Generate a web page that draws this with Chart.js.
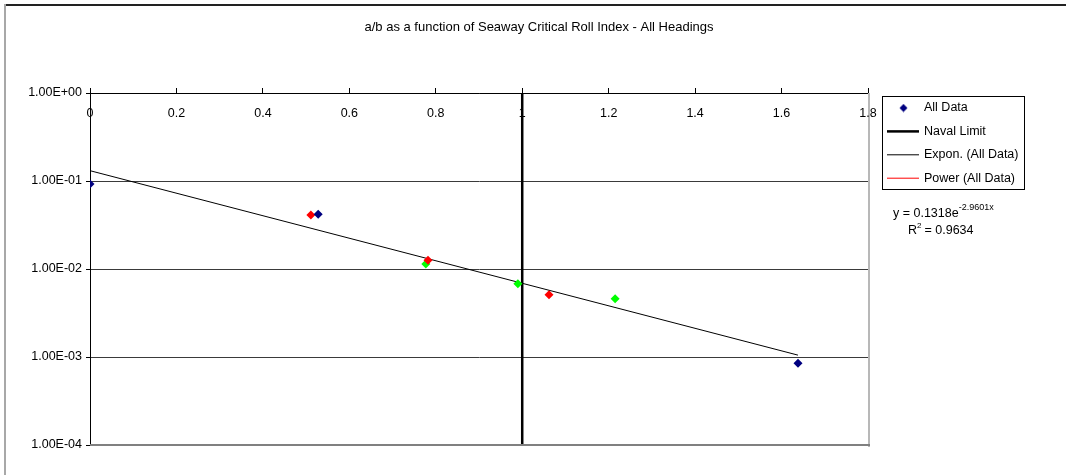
<!DOCTYPE html>
<html>
<head>
<meta charset="utf-8">
<script src="https://cdn.jsdelivr.net/npm/chart.js@4/dist/chart.umd.min.js"></script>
<style>
  body { margin: 0; background: #fff; }
  canvas { display: block; }
</style>
</head>
<body>
<canvas id="graph0" width="1066" height="475"></canvas>
<script>
// values
const allDataX = [0, 0.528, 1.638];
const allDataY = [0.0925, 0.042, 0.00085];
const redX = [0.511, 0.782, 1.062];
const redY = [0.041, 0.0126, 0.0051];
const greenX = [0.777, 0.99, 1.215];
const greenY = [0.0114, 0.0068, 0.0046];
const exponX = [0, 1.638];
const exponY = [0.131, 0.00105];
const navalX = [1, 1];
const navalY = [0.0001, 1];
const xTicks = [0, 0.2, 0.4, 0.6, 0.8, 1, 1.2, 1.4, 1.6, 1.8];
const yTicks = [0.0001, 0.001, 0.01, 0.1, 1];

const chartTitle = "a/b as a function of Seaway Critical Roll Index - All Headings";
const fontName = "'Liberation Sans', Arial, sans-serif";

function points(xs, ys){
    return xs.map((x, i) => ({x: x, y: ys[i]}));
}

function sciLabel(v){
    const e = Math.round(Math.log10(v));
    const m = v / Math.pow(10, e);
    return m.toFixed(2) + "E" + (e < 0 ? "-" : "+") + String(Math.abs(e)).padStart(2, "0");
}

// small diamond used as the legend marker of "All Data"
function diamond(color){
    const c = document.createElement("canvas");
    c.width = 9; c.height = 9;
    const g = c.getContext("2d");
    g.fillStyle = color;
    g.beginPath();
    g.moveTo(4.5, 0.5); g.lineTo(8.5, 4.5); g.lineTo(4.5, 8.5); g.lineTo(0.5, 4.5);
    g.closePath();
    g.fill();
    return c;
}

const frame = {
    id: "frame",
    beforeDraw(chart){
        const ctx = chart.ctx;
        ctx.save();
        ctx.fillStyle = "#fff";
        ctx.fillRect(0, 0, chart.width, chart.height);
        ctx.fillStyle = "#222";
        ctx.fillRect(4, 4, chart.width - 4, 2);
        ctx.fillStyle = "#a8a8a8";
        ctx.fillRect(4, 4, 2, chart.height - 4);
        ctx.restore();
    },
    afterDraw(chart){
        const ctx = chart.ctx;
        const area = chart.chartArea;
        const xs = chart.scales.x;
        ctx.save();

        // title, centred on the whole chart like the original
        ctx.font = "13px " + fontName;
        ctx.fillStyle = "#000";
        ctx.textAlign = "center";
        ctx.textBaseline = "middle";
        ctx.fillText(chartTitle, chart.width / 2 + 6, 27);

        // plot area border (right and bottom)
        ctx.fillStyle = "#b8b8b8";
        ctx.fillRect(area.right, area.top, 2, area.bottom - area.top + 2);
        ctx.fillStyle = "#808080";
        ctx.fillRect(area.left, area.bottom - 1, area.right - area.left + 2, 2);

        // x labels sit under the axis line, which is at the top
        ctx.font = "12.5px " + fontName;
        ctx.fillStyle = "#000";
        xs.ticks.forEach(t => {
            ctx.fillText(String(+t.value.toFixed(1)), xs.getPixelForValue(t.value), area.top + 21);
        });

        // legend box
        const left = area.right + 14;
        const top = area.top + 3;
        ctx.strokeStyle = "#000";
        ctx.lineWidth = 1;
        ctx.strokeRect(left + 0.5, top + 0.5, 142, 93);
        ctx.textAlign = "left";
        const items = chart.data.datasets.filter(d => d.inLegend);
        items.forEach((d, i) => {
            const y = top + 12 + i * 23.4;
            if (d.showLine) {
                ctx.strokeStyle = d.borderColor;
                ctx.lineWidth = d.borderWidth;
                ctx.beginPath();
                ctx.moveTo(left + 5, y);
                ctx.lineTo(left + 37, y);
                ctx.stroke();
            } else {
                ctx.drawImage(diamond(d.backgroundColor), left + 17, y - 4.5);
            }
            ctx.fillStyle = "#000";
            ctx.fillText(d.label, left + 42, y);
        });

        // trendline equation
        ctx.textBaseline = "alphabetic";
        ctx.fillText("y = 0.1318e", left + 11, top + 121);
        const w = ctx.measureText("y = 0.1318e").width;
        ctx.font = "9px " + fontName;
        ctx.fillText("-2.9601x", left + 11 + w, top + 114);
        ctx.font = "12.5px " + fontName;
        ctx.fillText("R", left + 26, top + 138);
        const rw = ctx.measureText("R").width;
        ctx.font = "8px " + fontName;
        ctx.fillText("2", left + 26 + rw, top + 132);
        ctx.font = "12.5px " + fontName;
        ctx.fillText(" = 0.9634", left + 26 + rw + 4, top + 138);
        ctx.restore();
    }
};

function main(){
    new Chart("graph0", {
        type: "scatter",
        data: {
            datasets: [{
                label: "All Data",
                inLegend: true,
                data: points(allDataX, allDataY),
                backgroundColor: "#000080",
                borderColor: "#000080",
                pointStyle: "rectRot",
                pointRadius: 4.5,
                borderWidth: 0
            }, {
                label: "Red points",
                data: points(redX, redY),
                backgroundColor: "#ff0000",
                borderColor: "#ff0000",
                pointStyle: "rectRot",
                pointRadius: 4.5,
                borderWidth: 0
            }, {
                label: "Green points",
                data: points(greenX, greenY),
                backgroundColor: "#00ff00",
                borderColor: "#00ff00",
                pointStyle: "rectRot",
                pointRadius: 4.5,
                borderWidth: 0
            }, {
                label: "Naval Limit",
                inLegend: true,
                data: points(navalX, navalY),
                showLine: true,
                borderColor: "#000",
                borderWidth: 2.5,
                pointRadius: 0
            }, {
                label: "Expon. (All Data)",
                inLegend: true,
                data: points(exponX, exponY),
                showLine: true,
                borderColor: "#000",
                borderWidth: 1,
                pointRadius: 0
            }, {
                label: "Power (All Data)",
                inLegend: true,
                data: [],
                showLine: true,
                borderColor: "#ff0000",
                borderWidth: 1,
                pointRadius: 0
            }]
        },
        options: {
            responsive: false,
            animation: false,
            layout: {padding: {left: 0, right: 198, top: 0, bottom: 30}},
            plugins: {
                legend: {display: false},
                tooltip: {enabled: false},
                title: {display: false}
            },
            scales: {
                x: {
                    type: "linear",
                    position: "top",
                    min: 0,
                    max: 1.8,
                    afterBuildTicks: s => { s.ticks = xTicks.map(v => ({value: v})); },
                    afterFit: s => { s.height = 93; },
                    ticks: {display: false},
                    grid: {drawOnChartArea: false, drawTicks: true, tickLength: 5, tickColor: "#000"},
                    border: {color: "#000", width: 1}
                },
                y: {
                    type: "logarithmic",
                    min: 0.0001,
                    max: 1,
                    afterBuildTicks: s => { s.ticks = yTicks.map(v => ({value: v})); },
                    afterFit: s => { s.width = 90; },
                    ticks: {
                        color: "#000",
                        padding: 4,
                        font: {family: fontName, size: 12.5},
                        callback: v => sciLabel(v)
                    },
                    grid: {
                        tickLength: 4,
                        tickColor: "#000",
                        color: c => c.tick && c.tick.value === 0.0001 ? "rgba(0,0,0,0)" : "#3a3a3a",
                        lineWidth: 1
                    },
                    border: {color: "#000", width: 1}
                }
            }
        },
        plugins: [frame]
    });
}

main();
</script>
</body>
</html>
